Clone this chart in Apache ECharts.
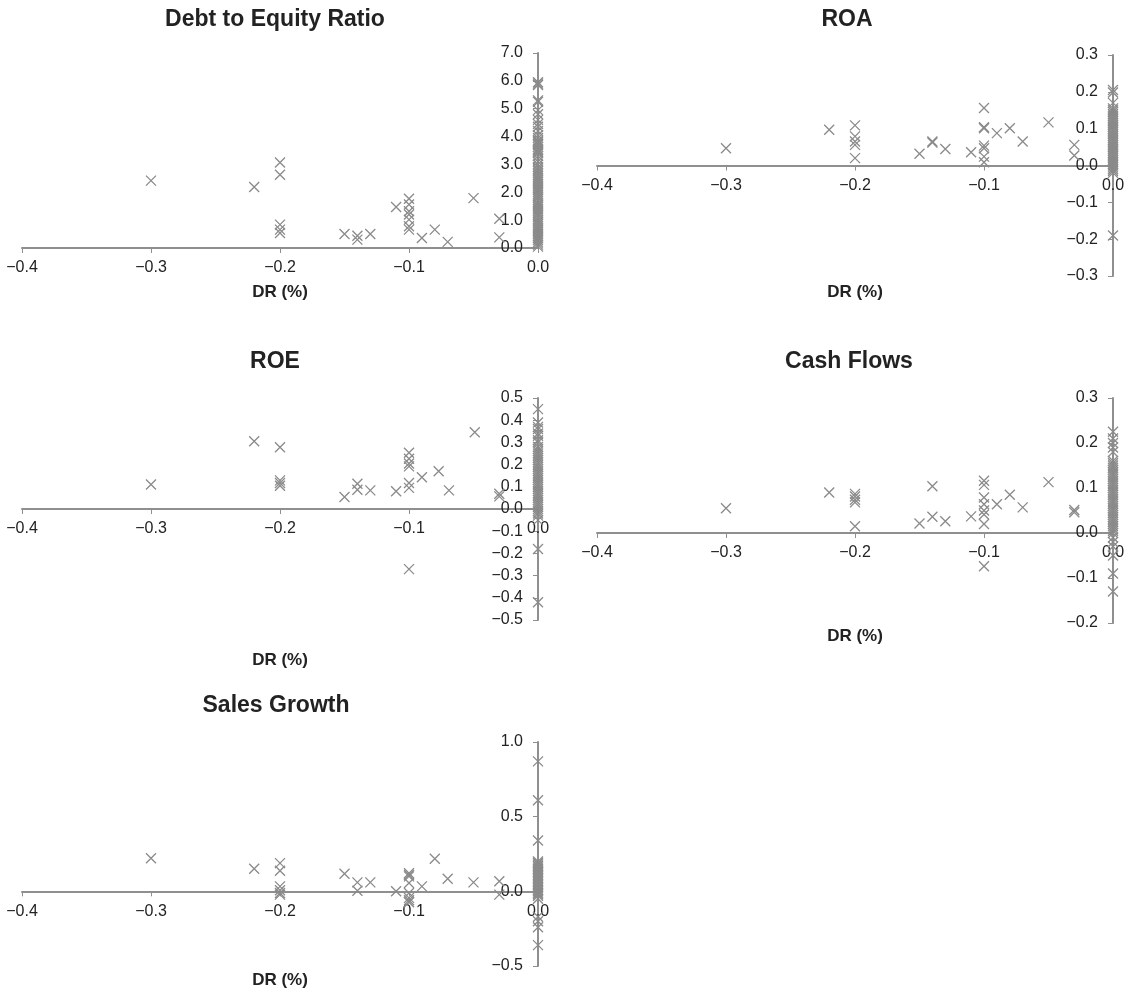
<!DOCTYPE html>
<html>
<head>
<meta charset="utf-8">
<script src="https://cdn.jsdelivr.net/npm/echarts@6/dist/echarts.min.js"></script>
<style>
body { margin: 0; background: #fff; }
#scatter-grid { width: 1129px; height: 993px; }
</style>
</head>
<body>
<div id="scatter-grid"></div>
<script>
// panel titles
var panelTitles = ['Debt to Equity Ratio', 'ROA', 'ROE', 'Cash Flows', 'Sales Growth'];
var xName = 'DR (%)';

// Debt to Equity Ratio: scattered points [DR, value] and the column at DR = 0
var deScatter = [[-0.3, 2.42], [-0.22, 2.19], [-0.2, 3.07], [-0.2, 2.63], [-0.2, 0.84], [-0.2, 0.66], [-0.2, 0.54],
  [-0.15, 0.5], [-0.14, 0.44], [-0.14, 0.3], [-0.13, 0.5], [-0.11, 1.47],
  [-0.1, 1.77], [-0.1, 1.56], [-0.1, 1.32], [-0.1, 1.2], [-0.1, 1.02], [-0.1, 0.78], [-0.1, 0.66],
  [-0.09, 0.36], [-0.08, 0.66], [-0.07, 0.22], [-0.05, 1.79], [-0.03, 1.05], [-0.03, 0.38]];
var deZero = [5.95, 5.9, 5.85, 5.3, 5.25, 4.95, 4.8, 4.6, 4.45, 4.35, 4.2, 4.05, 3.95, 3.85, 3.8, 3.75, 3.7, 3.62,
  3.55, 3.5, 3.45, 3.4, 3.3, 3.2, 3.1, 3.0, 2.9, 2.82, 2.75, 2.68, 2.6, 2.52, 2.45, 2.38, 2.3, 2.22, 2.15, 2.08,
  2.0, 1.92, 1.85, 1.78, 1.7, 1.62, 1.55, 1.48, 1.4, 1.33, 1.25, 1.18, 1.1, 1.02, 0.95, 0.88, 0.8, 0.72, 0.65,
  0.58, 0.5, 0.42, 0.35, 0.28, 0.2, 0.12, 0.05];

// ROA
var roaScatter = [[-0.3, 0.047], [-0.22, 0.097], [-0.2, 0.109], [-0.2, 0.079], [-0.2, 0.065], [-0.2, 0.056], [-0.2, 0.02],
  [-0.15, 0.032], [-0.14, 0.065], [-0.14, 0.062], [-0.13, 0.045], [-0.11, 0.036],
  [-0.1, 0.156], [-0.1, 0.104], [-0.1, 0.101], [-0.1, 0.054], [-0.1, 0.047], [-0.1, 0.024], [-0.1, 0.009],
  [-0.09, 0.088], [-0.08, 0.101], [-0.07, 0.065], [-0.05, 0.117], [-0.03, 0.056], [-0.03, 0.027]];
var roaZero = [0.205, 0.198, 0.17, 0.155, 0.15, 0.145, 0.14, 0.135, 0.13, 0.125, 0.12, 0.115, 0.11, 0.105, 0.1,
  0.095, 0.09, 0.085, 0.08, 0.075, 0.07, 0.065, 0.06, 0.055, 0.05, 0.045, 0.04, 0.035, 0.03, 0.025, 0.02,
  0.015, 0.01, 0.005, 0.0, -0.005, -0.01, -0.015, -0.02, -0.19];

// ROE
var roeScatter = [[-0.3, 0.11], [-0.22, 0.305], [-0.2, 0.278], [-0.2, 0.129], [-0.2, 0.117], [-0.2, 0.105],
  [-0.15, 0.054], [-0.14, 0.114], [-0.14, 0.087], [-0.13, 0.084], [-0.11, 0.08],
  [-0.1, 0.253], [-0.1, 0.226], [-0.1, 0.205], [-0.1, 0.192], [-0.1, 0.117], [-0.1, 0.095], [-0.1, -0.271],
  [-0.09, 0.143], [-0.077, 0.17], [-0.069, 0.084], [-0.049, 0.346], [-0.03, 0.069], [-0.03, 0.057]];
var roeZero = [0.45, 0.39, 0.37, 0.36, 0.34, 0.33, 0.31, 0.3, 0.28, 0.27, 0.26, 0.25, 0.24, 0.23, 0.22, 0.21, 0.2,
  0.19, 0.18, 0.17, 0.16, 0.15, 0.14, 0.13, 0.12, 0.11, 0.1, 0.09, 0.08, 0.07, 0.06, 0.05, 0.04, 0.03, 0.02,
  0.01, 0.0, -0.01, -0.02, -0.03, -0.05, -0.18, -0.42];

// Cash Flows
var cfScatter = [[-0.3, 0.055], [-0.22, 0.09], [-0.2, 0.087], [-0.2, 0.081], [-0.2, 0.074], [-0.2, 0.068], [-0.2, 0.015],
  [-0.15, 0.021], [-0.14, 0.104], [-0.14, 0.036], [-0.13, 0.026], [-0.11, 0.037],
  [-0.1, 0.116], [-0.1, 0.107], [-0.1, 0.079], [-0.1, 0.064], [-0.1, 0.05], [-0.1, 0.041], [-0.1, 0.02], [-0.1, -0.074],
  [-0.09, 0.064], [-0.08, 0.085], [-0.07, 0.057], [-0.05, 0.113], [-0.03, 0.051], [-0.03, 0.046]];
var cfZero = [0.225, 0.21, 0.2, 0.19, 0.18, 0.16, 0.155, 0.15, 0.145, 0.14, 0.135, 0.13, 0.125, 0.12, 0.115, 0.11,
  0.105, 0.1, 0.095, 0.09, 0.085, 0.08, 0.075, 0.07, 0.065, 0.06, 0.055, 0.05, 0.045, 0.04, 0.035, 0.03, 0.025,
  0.02, 0.015, 0.01, 0.005, 0.0, -0.01, -0.02, -0.03, -0.05, -0.09, -0.13];

// Sales Growth
var sgScatter = [[-0.3, 0.222], [-0.22, 0.151], [-0.2, 0.189], [-0.2, 0.138], [-0.2, 0.033], [-0.2, 0.007], [-0.2, -0.011], [-0.2, -0.022],
  [-0.15, 0.118], [-0.14, 0.06], [-0.14, 0.004], [-0.13, 0.06], [-0.11, 0.0],
  [-0.1, 0.122], [-0.1, 0.111], [-0.1, 0.1], [-0.1, 0.056], [-0.1, -0.011], [-0.1, -0.044], [-0.1, -0.06], [-0.1, -0.073],
  [-0.09, 0.033], [-0.08, 0.218], [-0.07, 0.084], [-0.05, 0.06], [-0.03, 0.067], [-0.03, -0.022]];
var sgZero = [0.87, 0.61, 0.34, 0.2, 0.19, 0.18, 0.17, 0.16, 0.15, 0.14, 0.13, 0.12, 0.11, 0.1, 0.09, 0.08, 0.07,
  0.06, 0.05, 0.04, 0.03, 0.02, 0.01, 0.0, -0.01, -0.02, -0.03, -0.05, -0.17, -0.2, -0.24, -0.36];

// y axis ranges per panel: [min, max, interval]
var yRanges = [[0, 7, 1], [-0.3, 0.3, 0.1], [-0.5, 0.5, 0.1], [-0.2, 0.3, 0.1], [-0.5, 1.0, 0.5]];
var xTicks = [-0.4, 0, 0.1];

var scatters = [deScatter, roaScatter, roeScatter, cfScatter, sgScatter];
var zeros = [deZero, roaZero, roeZero, cfZero, sgZero];

// layout of the five plots
var grids = [
  { left: 22, top: 53, width: 516, height: 195 },
  { left: 597, top: 55, width: 516, height: 221 },
  { left: 22, top: 398, width: 516, height: 222 },
  { left: 597, top: 398, width: 516, height: 225 },
  { left: 22, top: 742, width: 516, height: 224 }
];
var titlePos = [[275, 20], [847, 20], [275, 362], [849, 362], [276, 706]];
var namePos = [[280, 292], [855, 292], [280, 660], [855, 636], [280, 980]];

var axisGray = '#8f8f8f';
var markGray = '#8a8a8a';
var labelFont = 'Liberation Sans';

function fmt (v) {
  return v.toFixed(1).replace('-', '\u2212');
}

var xAxes = [], yAxes = [], series = [], graphics = [];
for (var i = 0; i < 5; i++) {
  var g = grids[i];
  g.outerBoundsMode = 'none';
  g.containLabel = false;
  var lo = yRanges[i][0], hi = yRanges[i][1];
  // move the DR axis up to the zero line, and the value axis over to DR = 0
  var xOff = -g.height * (0 - lo) / (hi - lo);
  xAxes.push({
    gridIndex: i,
    type: 'value',
    position: 'bottom',
    offset: xOff,
    min: xTicks[0],
    max: xTicks[1],
    interval: xTicks[2],
    splitLine: { show: false },
    axisLine: { onZero: false, lineStyle: { color: axisGray, width: 2 } },
    axisTick: { show: true, inside: false, length: 5, lineStyle: { color: axisGray, width: 1 } },
    axisLabel: { color: '#222', fontSize: 16, fontFamily: labelFont, margin: 12, formatter: fmt }
  });
  yAxes.push({
    gridIndex: i,
    type: 'value',
    position: 'left',
    offset: -g.width,
    min: lo,
    max: hi,
    interval: yRanges[i][2],
    splitLine: { show: false },
    axisLine: { show: true, onZero: false, lineStyle: { color: axisGray, width: 2 } },
    axisTick: { show: true, inside: false, length: 5, lineStyle: { color: axisGray, width: 1 } },
    axisLabel: { color: '#222', fontSize: 16, fontFamily: labelFont, margin: 15, formatter: fmt }
  });
  var pts = scatters[i].slice();
  for (var k = 0; k < zeros[i].length; k++) {
    pts.push([0, zeros[i][k]]);
  }
  series.push({
    type: 'scatter',
    xAxisIndex: i,
    yAxisIndex: i,
    data: pts,
    symbol: 'path://M0,0L10,10M10,0L0,10',
    symbolSize: 10,
    itemStyle: { color: 'none', borderColor: markGray, borderWidth: 1.3, opacity: 1 },
    silent: true
  });
  graphics.push({
    type: 'text',
    x: titlePos[i][0], y: titlePos[i][1],
    style: { text: panelTitles[i], font: 'bold 23px "Liberation Sans"', fill: '#222',
      textAlign: 'center', textVerticalAlign: 'middle', align: 'center', verticalAlign: 'middle' }
  });
  graphics.push({
    type: 'text',
    x: namePos[i][0], y: namePos[i][1],
    style: { text: xName, font: 'bold 17px "Liberation Sans"', fill: '#222',
      textAlign: 'center', textVerticalAlign: 'middle', align: 'center', verticalAlign: 'middle' }
  });
}

var myChart = echarts.init(document.getElementById('scatter-grid'));
var option = {
  animation: false,
  backgroundColor: '#fff',
  grid: grids,
  xAxis: xAxes,
  yAxis: yAxes,
  series: series,
  graphic: graphics
};
myChart.setOption(option);
</script>
</body>
</html>
